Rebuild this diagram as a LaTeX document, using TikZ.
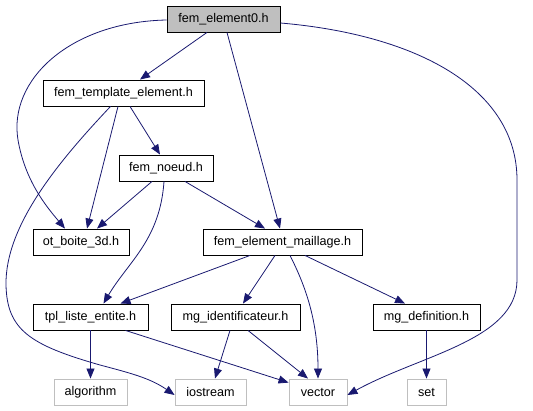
\documentclass[tikz,border=0pt]{standalone}
\usepackage{fontspec}
\setmainfont{Liberation Sans}
\usetikzlibrary{arrows.meta}
\definecolor{edgec}{HTML}{191970}
\definecolor{sysgray}{HTML}{BFBFBF}
\tikzset{
  hbox/.style={draw=black, line width=0.9pt, fill=white, inner sep=0pt, minimum height=26pt, font=\fontsize{12.6}{14}\selectfont},
  topbox/.style={hbox, fill=sysgray},
  sysbox/.style={hbox, draw=sysgray},
  dep/.style={draw=edgec, line width=0.8pt, -{Triangle[length=10pt,width=8pt]}, fill=none},
}
\begin{document}
\begin{tikzpicture}[x=1pt,y=-1pt]
\useasboundingbox (0,0) rectangle (533,411);
\node[topbox, minimum width=113pt] (e0) at (223.5,19) {fem\_element0.h};
\node[hbox, minimum width=161pt] (tmpl) at (123.5,93) {fem\_template\_element.h};
\node[hbox, minimum width=94pt] (noeud) at (166,168) {fem\_noeud.h};
\node[hbox, minimum width=96pt] (ot) at (81,242) {ot\_boite\_3d.h};
\node[hbox, minimum width=159pt] (maill) at (282.5,242) {fem\_element\_maillage.h};
\node[hbox, minimum width=115pt] (tpl) at (90.5,317) {tpl\_liste\_entite.h};
\node[hbox, minimum width=129pt] (mgid) at (235.5,317) {mg\_identificateur.h};
\node[hbox, minimum width=107pt] (mgdef) at (426.5,317) {mg\_definition.h};
\node[sysbox, minimum width=73pt] (algo) at (90.5,392) {algorithm};
\node[sysbox, minimum width=71pt] (ios) at (210.5,392) {iostream};
\node[sysbox, minimum width=58pt] (vec) at (318,392) {vector};
\node[sysbox, minimum width=39pt] (set) at (426.5,392) {set};

\draw[dep] ([xshift=-16.5pt]e0.south) -- ([xshift=16.5pt]tmpl.north);
\draw[dep] ([xshift=3.5pt]e0.south) -- ([xshift=-2.5pt]maill.north);
\draw[dep] ([yshift=-1pt]e0.west) .. controls (70,22) and (8,80) .. (18,140) .. controls (25,180) and (45,205) .. ([xshift=-16pt]ot.north);
\draw[dep] ([yshift=-4pt]e0.east) .. controls (420,35) and (517,90) .. (517,180) -- (517,280) .. controls (517,340) and (420,355) .. ([yshift=-3pt]vec.east);
\draw[dep] ([xshift=-5.5pt]tmpl.south) -- ([xshift=6pt]ot.north);
\draw[dep] ([xshift=6.5pt]tmpl.south) -- ([xshift=-6pt]noeud.north);
\draw[dep] ([xshift=-13pt]tmpl.south) .. controls (60,160) and (5,225) .. (6,285) .. controls (7,330) and (30,345) .. (100,365) .. controls (130,373) and (150,378) .. ([yshift=-3pt]ios.west);
\draw[dep] ([xshift=-14pt]noeud.south) -- ([xshift=16pt]ot.north);
\draw[dep] ([xshift=19pt]noeud.south) -- ([xshift=-17.5pt]maill.north);
\draw[dep] ([xshift=-2pt]noeud.south) .. controls (160,240) and (128,262) .. ([xshift=13pt]tpl.north);
\draw[dep] ([xshift=-32.5pt]maill.south) -- ([xshift=30pt]tpl.north);
\draw[dep] ([xshift=-7.5pt]maill.south) -- ([xshift=7.5pt]mgid.north);
\draw[dep] ([xshift=7.5pt]maill.south) .. controls (305,285) and (318,320) .. (vec.north);
\draw[dep] ([xshift=22.5pt]maill.south) -- ([xshift=-21.5pt]mgdef.north);
\draw[dep] (tpl.south) -- (algo.north);
\draw[dep] ([xshift=35pt]tpl.south) -- (vec);
\draw[dep] ([xshift=-5.5pt]mgid.south) -- ([xshift=4.5pt]ios.north);
\draw[dep] ([xshift=12.5pt]mgid.south) -- ([xshift=-10pt]vec.north);
\draw[dep] (mgdef.south) -- (set.north);
\end{tikzpicture}
\end{document}
